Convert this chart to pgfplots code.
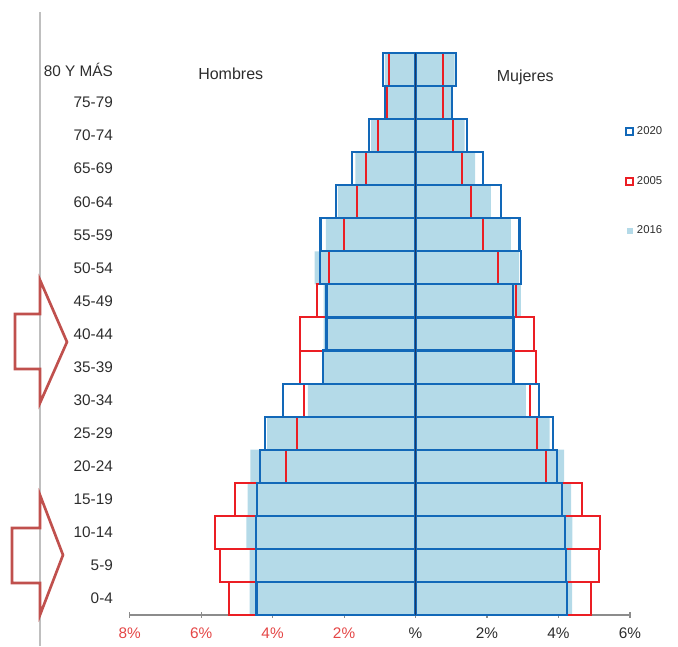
\documentclass[border=0pt]{standalone}
\usepackage{pgfplots}
\pgfplotsset{compat=1.18}
\usepackage{pgfplotstable}
\usepackage{fontspec}
\setmainfont{Liberation Sans}

\definecolor{lb}{RGB}{180,218,232}
\definecolor{b20}{RGB}{18,104,184}
\definecolor{r05}{RGB}{235,30,36}
\definecolor{navy}{RGB}{31,56,100}
\definecolor{arr}{RGB}{192,80,77}
\definecolor{txt}{RGB}{45,45,45}
\definecolor{tickred}{RGB}{228,70,70}

\pgfplotstableread{
y m2020 m2005 m2016 w2020 w2005 w2016
0  -4.45 -5.22 -4.64 4.23 4.91 4.38
1  -4.47 -5.46 -4.64 4.21 5.14 4.35
2  -4.47 -5.60 -4.73 4.17 5.17 4.39
3  -4.43 -5.06 -4.70 4.09 4.66 4.35
4  -4.34 -3.63 -4.62 3.96 3.65 4.16
5  -4.21 -3.32 -4.15 3.85 3.39 3.75
6  -3.71 -3.12 -3.01 3.46 3.21 3.09
7  -2.59 -3.22 -2.60 2.74 3.37 2.74
8  -2.49 -3.24 -2.57 2.74 3.31 2.74
9  -2.49 -2.76 -2.57 2.72 2.81 2.95
10 -2.67 -2.43 -2.82 2.96 2.30 2.90
11 -2.66 -2.01 -2.51 2.91 1.90 2.67
12 -2.23 -1.63 -2.17 2.39 1.54 2.11
13 -1.78 -1.38 -1.68 1.88 1.30 1.67
14 -1.30 -1.05 -1.24 1.43 1.04 1.37
15 -0.86 -0.79 -0.84 1.02 0.76 1.00
16 -0.90 -0.73 -0.86 1.14 0.76 1.09
}\pyr

\begin{document}
\begin{tikzpicture}
\useasboundingbox (0,0) rectangle (508.5pt,484.5pt);
\draw[black!25, line width=1.5pt] (30pt,0) -- (30pt,475.5pt);
\draw[arr, line width=2pt, line join=miter] (11.25pt,249pt) -- (30pt,249pt) -- (30pt,274.5pt) -- (50.25pt,228pt) -- (30pt,182.25pt) -- (30pt,207.75pt) -- (11.25pt,207.75pt) -- cycle;
\draw[arr, line width=2pt, line join=miter] (9pt,88.5pt) -- (30pt,88.5pt) -- (30pt,113.25pt) -- (47.25pt,68.25pt) -- (30pt,23.25pt) -- (30pt,47.25pt) -- (9pt,47.25pt) -- cycle;
\begin{axis}[
  at={(97.2pt,23.25pt)}, anchor=south west,
  scale only axis, width=375.3pt, height=421.5pt,
  xmin=-8, xmax=6, ymin=-0.5, ymax=16.5,
  enlargelimits=false,
  axis x line*=bottom, axis y line*=left,
  x axis line style={-, black!45, line width=0.8pt},
  y axis line style={draw=none},
  xtick={-8,-6,-4,-2,0,2,4,6},
  xticklabels={\textcolor{tickred}{8\%},\textcolor{tickred}{6\%},\textcolor{tickred}{4\%},\textcolor{tickred}{2\%},\%,2\%,4\%,6\%},
  xticklabel style={font=\fontsize{11.5}{13}\selectfont, text=txt, yshift=-4pt},
  x tick style={black!45, line width=0.8pt},
  tick align=center, major tick length=4pt,
  ytick={0,...,16},
  yticklabels={0-4,5-9,10-14,15-19,20-24,25-29,30-34,35-39,40-44,45-49,50-54,55-59,60-64,65-69,70-74,75-79,80 Y MÁS},
  yticklabel style={font=\fontsize{11.5}{13}\selectfont, text=txt, xshift=-7pt},
  y tick style={draw=none},
  sq/.style={legend image code/.code={\draw[##1] (0pt,-2.6pt) rectangle (5.2pt,2.6pt);}},
  reverse legend,
  legend style={draw=none, fill=none, at={(rel axis cs:0.99,0.875)}, anchor=north west,
    font=\fontsize{8.5}{10}\selectfont, text=txt, row sep=26pt, inner sep=0pt,
    /tikz/every even column/.append style={column sep=1pt}},
  legend cell align=left,
]
\addplot[xbar, bar width=1, bar shift=0pt, fill=lb, draw=none, forget plot] table[x=m2016,y=y] {\pyr};
\addplot[xbar, bar width=1, bar shift=0pt, fill=lb, draw=none,
  legend image code/.code={\fill[lb] (0.4pt,-2.2pt) rectangle (4.8pt,2.2pt);}] table[x=w2016,y=y] {\pyr};
\addlegendentry{2016}
\addplot[xbar, bar width=1, bar shift=0pt, fill=none, draw=r05, line width=1.5pt, forget plot] table[x=m2005,y=y] {\pyr};
\addplot[xbar, bar width=1, bar shift=0pt, fill=none, draw=r05, line width=1.5pt, sq] table[x=w2005,y=y] {\pyr};
\addlegendentry{2005}
\addplot[xbar, bar width=1, bar shift=0pt, fill=none, draw=b20, line width=1.6pt, forget plot] table[x=m2020,y=y] {\pyr};
\addplot[xbar, bar width=1, bar shift=0pt, fill=none, draw=b20, line width=1.6pt, sq] table[x=w2020,y=y] {\pyr};
\addlegendentry{2020}
\draw[navy, line width=1.2pt] (axis cs:0,-0.5) -- (axis cs:0,16.5);
\node[font=\fontsize{12}{14}\selectfont, text=txt] at (axis cs:-5.17,15.86) {Hombres};
\node[font=\fontsize{12}{14}\selectfont, text=txt] at (axis cs:3.07,15.77) {Mujeres};
\end{axis}
\end{tikzpicture}
\end{document}
